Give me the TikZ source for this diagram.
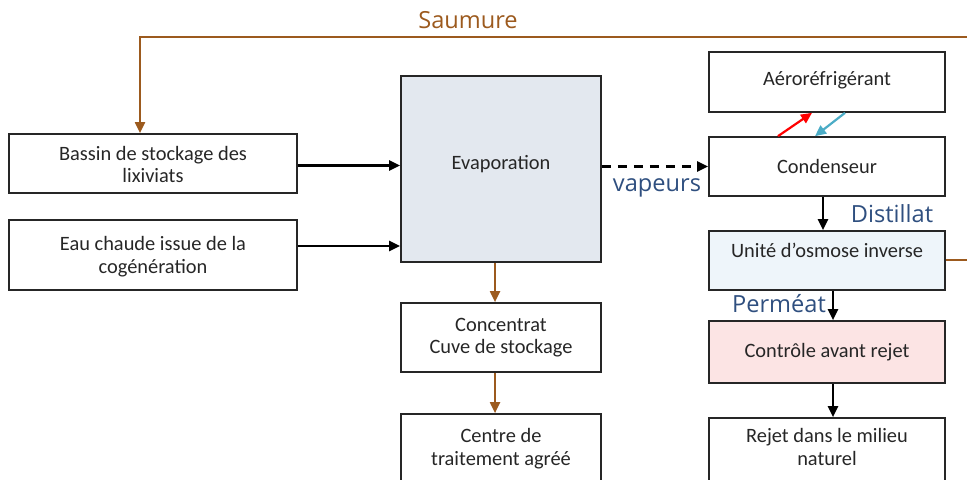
\documentclass[tikz,border=0pt]{standalone}
\usepackage{fontspec}
\setmainfont{Carlito}
\newfontfamily\labfont{Open Sans}
\usetikzlibrary{arrows.meta}
\definecolor{brn}{HTML}{9C5A1E}
\definecolor{labblue}{HTML}{2F4F7F}
\definecolor{evapfill}{HTML}{E3E8EF}
\definecolor{osmfill}{HTML}{EEF5FA}
\definecolor{ctrlfill}{HTML}{FCE4E4}
\definecolor{cyanarr}{HTML}{4BACC6}
\tikzset{
  box/.style={draw=black!85, line width=0.85pt, align=center, inner sep=1pt,
    font=\fontsize{10.2pt}{11.2pt}\selectfont, text=black!85},
  blk/.style={line width=1.1pt, -{Triangle[length=5.5pt,width=5pt]}},
  brw/.style={line width=1pt, draw=brn, -{Triangle[length=5.5pt,width=5pt,fill=brn]}},
  lab/.style={font=\labfont\fontsize{11.8pt}{13pt}\selectfont},
}
\begin{document}
\begin{tikzpicture}[x=0.5pt,y=-0.5pt]
\useasboundingbox (0,0) rectangle (967,480);
\clip (0,0) rectangle (967,480);
% boxes
\node[box, minimum width=144pt, minimum height=29.5pt, text height=21pt, text depth=1.5pt] (bassin) at (153,163.5) {Bassin de stockage des\\lixiviats};
\node[box, minimum width=144pt, minimum height=35pt, text height=20pt] (eau) at (153,255) {Eau chaude issue de la\\cogénération};
\node[box, fill=evapfill, minimum width=100pt, minimum height=93pt, text depth=7pt] (evap) at (501,169) {Evaporation};
\node[box, minimum width=100pt, minimum height=34.5pt] (conc) at (501,337.5) {Concentrat\\Cuve de stockage};
\node[box, minimum width=100pt, minimum height=34pt, text depth=1pt] (centre) at (501,448) {Centre de\\traitement agréé};
\node[box, minimum width=118pt, minimum height=30pt, text depth=4pt] (aero) at (827,82) {Aéroréfrigérant};
\node[box, minimum width=118pt, minimum height=29.5pt] (cond) at (827,166.5) {Condenseur};
\node[box, fill=osmfill, minimum width=118pt, minimum height=29.5pt, text depth=10pt] (osm) at (827,260.5) {Unité d’osmose inverse};
\node[box, fill=ctrlfill, minimum width=118pt, minimum height=31pt] (ctrl) at (827,352) {Contrôle avant rejet};
\node[box, minimum width=118pt, minimum height=32pt, text depth=3pt] (rejet) at (827,450) {Rejet dans le milieu\\naturel};
% labels
\node[lab, text=brn] (lsaum) at (468,20) {Saumure};
\node[lab, text=labblue] (lvap) at (657,188) {vapeurs};
\node[lab, text=labblue] (ldist) at (892,214) {Distillat};
\node[lab, text=labblue] (lperm) at (779,304) {Perméat};
% saumure loop
\coordinate (sL) at (140,37);
\coordinate (sR) at (990,37);
\draw[brw] (osm.east) -| (sR) -- (sL) -- (sL |- bassin.north);
% inputs
\draw[blk] ([yshift=-1pt]bassin.east) -- ([yshift=-1pt]bassin.east -| evap.west);
\draw[blk] ([yshift=4.5pt]eau.east) -- ([yshift=4.5pt]eau.east -| evap.west);
% evaporation outputs
\draw[brw] ([xshift=-3pt]evap.south) -- ([xshift=-3pt]conc.north);
\draw[brw] ([xshift=-3pt]conc.south) -- ([xshift=-3pt]centre.north);
\draw[blk, dashed, dash pattern=on 4.5pt off 3.5pt] (evap.east |- cond.west) -- (cond.west);
% cooling loop
\draw[line width=1.1pt, draw=red, -{Triangle[length=5.5pt,width=5pt,fill=red]}] ([xshift=-24.5pt]cond.north) -- ([xshift=-7.5pt]aero.south);
\draw[line width=1.1pt, draw=cyanarr, -{Triangle[length=5.5pt,width=5pt,fill=cyanarr]}] ([xshift=9pt]aero.south) -- ([xshift=-6pt]cond.north);
% right chain
\draw[blk] ([xshift=-2pt]cond.south) -- ([xshift=-2pt]osm.north);
\draw[blk] ([xshift=3pt]osm.south) -- ([xshift=3pt]ctrl.north);
\draw[blk] ([xshift=3pt]ctrl.south) -- ([xshift=3pt]rejet.north);
\end{tikzpicture}
\end{document}
